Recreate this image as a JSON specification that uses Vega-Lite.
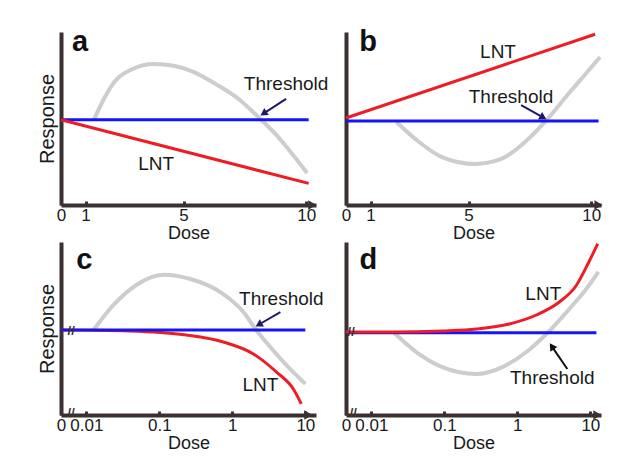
{
  "$schema": "https://vega.github.io/schema/vega-lite/v6.json",
  "background": "white",
  "padding": {"left": 37, "top": 28, "right": 5, "bottom": 5},
  "columns": 2,
  "bounds": "flush",
  "spacing": {"row": 37, "column": 30},
  "datasets": {
    "a": [
      {"s": "gray", "dose": 1.35, "r": 4.95}, {"s": "gray", "dose": 1.7, "r": 6.0}, {"s": "gray", "dose": 2.2, "r": 7.15},
      {"s": "gray", "dose": 2.9, "r": 7.85}, {"s": "gray", "dose": 3.8, "r": 8.15}, {"s": "gray", "dose": 4.6, "r": 8.05},
      {"s": "gray", "dose": 5.4, "r": 7.7}, {"s": "gray", "dose": 6.3, "r": 7.0}, {"s": "gray", "dose": 7.27, "r": 6.1},
      {"s": "gray", "dose": 7.96, "r": 5.2}, {"s": "gray", "dose": 8.78, "r": 4.05}, {"s": "gray", "dose": 9.43, "r": 2.95},
      {"s": "gray", "dose": 10.04, "r": 1.85},
      {"s": "threshold", "dose": 0, "r": 4.93}, {"s": "threshold", "dose": 10.1, "r": 4.93},
      {"s": "lnt", "dose": 0, "r": 4.93}, {"s": "lnt", "dose": 10.1, "r": 1.25},
      {"s": "label", "t": "Threshold", "dose": 9.18, "r": 7.0},
      {"s": "label", "t": "LNT", "dose": 3.88, "r": 2.37},
      {"s": "letter", "t": "a", "dose": 0.78, "r": 9.4},
      {"s": "arrow", "dose": 9.18, "r": 6.13, "dose2": 8.3, "r2": 5.33},
      {"s": "head", "dose": 8.3, "r": 5.33},
      {"s": "axisend", "dose": 10.25, "r": 0}
    ],
    "b": [
      {"s": "gray", "dose": 2.06, "r": 4.8}, {"s": "gray", "dose": 2.98, "r": 3.64}, {"s": "gray", "dose": 3.91, "r": 2.77},
      {"s": "gray", "dose": 5.28, "r": 2.37}, {"s": "gray", "dose": 6.33, "r": 2.66}, {"s": "gray", "dose": 7.3, "r": 3.64},
      {"s": "gray", "dose": 8.15, "r": 4.86}, {"s": "gray", "dose": 9.03, "r": 6.36}, {"s": "gray", "dose": 9.84, "r": 7.69},
      {"s": "gray", "dose": 10.36, "r": 8.55},
      {"s": "threshold", "dose": 0, "r": 4.86}, {"s": "threshold", "dose": 10.3, "r": 4.86},
      {"s": "lnt", "dose": 0, "r": 5.03}, {"s": "lnt", "dose": 10.16, "r": 9.87},
      {"s": "label", "t": "Threshold", "dose": 6.73, "r": 6.24},
      {"s": "label", "t": "LNT", "dose": 6.2, "r": 8.84},
      {"s": "letter", "t": "b", "dose": 0.9, "r": 9.4},
      {"s": "arrow", "dose": 7.14, "r": 5.78, "dose2": 8.0, "r2": 5.09},
      {"s": "head", "dose": 8.0, "r": 5.09},
      {"s": "axisend", "dose": 10.3, "r": 0}
    ],
    "c": [
      {"s": "gray", "dose": 0.0125, "r": 4.9}, {"s": "gray", "dose": 0.0236, "r": 6.36}, {"s": "gray", "dose": 0.048, "r": 7.5},
      {"s": "gray", "dose": 0.1135, "r": 8.1}, {"s": "gray", "dose": 0.266, "r": 7.86}, {"s": "gray", "dose": 0.686, "r": 7.1},
      {"s": "gray", "dose": 1.42, "r": 5.95}, {"s": "gray", "dose": 2.07, "r": 4.97}, {"s": "gray", "dose": 3.31, "r": 3.93},
      {"s": "gray", "dose": 5.49, "r": 2.89}, {"s": "gray", "dose": 10, "r": 1.8},
      {"s": "threshold", "dose": 0.0045, "r": 4.91}, {"s": "threshold", "dose": 10, "r": 4.91},
      {"s": "lnt", "dose": 0.0045, "r": 4.91}, {"s": "lnt", "dose": 0.02, "r": 4.89}, {"s": "lnt", "dose": 0.05, "r": 4.84},
      {"s": "lnt", "dose": 0.234, "r": 4.62}, {"s": "lnt", "dose": 0.75, "r": 4.22}, {"s": "lnt", "dose": 1.94, "r": 3.53},
      {"s": "lnt", "dose": 4.0, "r": 2.49}, {"s": "lnt", "dose": 6.85, "r": 1.5}, {"s": "lnt", "dose": 8.8, "r": 0.64},
      {"s": "label", "t": "Threshold", "dose": 4.69, "r": 6.7},
      {"s": "label", "t": "LNT", "dose": 2.42, "r": 1.73},
      {"s": "letter", "t": "c", "dose": 0.0094, "r": 8.96},
      {"s": "arrow", "dose": 4.55, "r": 5.95, "dose2": 2.38, "r2": 5.26},
      {"s": "head", "dose": 2.38, "r": 5.26},
      {"s": "break", "t": "//", "dose": 0.0062, "r": 4.88},
      {"s": "break", "t": "//", "dose": 0.0062, "r": 0.1},
      {"s": "axisend", "dose": 11, "r": 0}
    ],
    "d": [
      {"s": "gray", "dose": 0.0207, "r": 4.74}, {"s": "gray", "dose": 0.0413, "r": 3.64}, {"s": "gray", "dose": 0.094, "r": 2.77},
      {"s": "gray", "dose": 0.275, "r": 2.37}, {"s": "gray", "dose": 0.624, "r": 2.77}, {"s": "gray", "dose": 1.33, "r": 3.64},
      {"s": "gray", "dose": 2.58, "r": 4.74}, {"s": "gray", "dose": 5.15, "r": 6.13}, {"s": "gray", "dose": 8.8, "r": 7.28},
      {"s": "gray", "dose": 12.9, "r": 8.27},
      {"s": "threshold", "dose": 0.0045, "r": 4.76}, {"s": "threshold", "dose": 12.1, "r": 4.76},
      {"s": "lnt", "dose": 0.0045, "r": 4.8}, {"s": "lnt", "dose": 0.0195, "r": 4.8}, {"s": "lnt", "dose": 0.094, "r": 4.86},
      {"s": "lnt", "dose": 0.275, "r": 4.97}, {"s": "lnt", "dose": 0.776, "r": 5.26}, {"s": "lnt", "dose": 1.82, "r": 5.78},
      {"s": "lnt", "dose": 3.76, "r": 6.53}, {"s": "lnt", "dose": 6.45, "r": 7.5}, {"s": "lnt", "dose": 9.1, "r": 8.67},
      {"s": "lnt", "dose": 12.6, "r": 9.9},
      {"s": "label", "t": "Threshold", "dose": 3.01, "r": 2.14},
      {"s": "label", "t": "LNT", "dose": 2.27, "r": 7.0},
      {"s": "letter", "t": "d", "dose": 0.0091, "r": 8.96},
      {"s": "arrow", "dose": 4.84, "r": 2.66, "dose2": 3.03, "r2": 3.91},
      {"s": "head", "dose": 3.03, "r": 3.91},
      {"s": "break", "t": "//", "dose": 0.0053, "r": 4.78},
      {"s": "break", "t": "//", "dose": 0.00566, "r": 0.1},
      {"s": "axisend", "dose": 12.5, "r": 0}
    ]
  },
  "concat": [
    {
      "width": 255, "height": 173,
      "data": {"name": "a"},
      "encoding": {
        "x": {"field": "dose", "type": "quantitative", "scale": {"domain": [0, 10.4], "nice": false, "zero": false},
              "axis": {"values": [0, 1, 5, 10], "title": "Dose"}},
        "y": {"field": "r", "type": "quantitative", "scale": {"domain": [0, 10], "nice": false},
              "axis": {"title": "Response"}}
      },
      "layer": [
        {"transform": [{"filter": "datum.s == 'gray'"}], "mark": {"type": "line", "color": "#cdcdcd", "strokeWidth": 4, "interpolate": "monotone"}},
        {"transform": [{"filter": "datum.s == 'threshold'"}], "mark": {"type": "line", "color": "#1414f5", "strokeWidth": 3}},
        {"transform": [{"filter": "datum.s == 'lnt'"}], "mark": {"type": "line", "color": "#ee1c24", "strokeWidth": 3}},
        {"transform": [{"filter": "datum.s == 'label'"}], "mark": {"type": "text", "fontSize": 19, "color": "#1a1a1a"}, "encoding": {"text": {"field": "t"}}},
        {"transform": [{"filter": "datum.s == 'letter'"}], "mark": {"type": "text", "fontSize": 29, "fontWeight": "bold", "color": "#111111"}, "encoding": {"text": {"field": "t"}}},
        {"transform": [{"filter": "datum.s == 'arrow'"}], "mark": {"type": "rule", "color": "#1b1b66", "strokeWidth": 2}, "encoding": {"x2": {"field": "dose2"}, "y2": {"field": "r2"}}},
        {"transform": [{"filter": "datum.s == 'head'"}], "mark": {"type": "point", "shape": "triangle", "angle": 237, "filled": true, "size": 70, "color": "#1b1b66", "opacity": 1}},
        {"transform": [{"filter": "datum.s == 'axisend'"}], "mark": {"type": "point", "shape": "triangle-right", "filled": true, "size": 90, "color": "#3b3130", "opacity": 1}}
      ]
    },
    {
      "width": 255, "height": 173,
      "data": {"name": "b"},
      "encoding": {
        "x": {"field": "dose", "type": "quantitative", "scale": {"domain": [0, 10.4], "nice": false, "zero": false},
              "axis": {"values": [0, 1, 5, 10], "title": "Dose"}},
        "y": {"field": "r", "type": "quantitative", "scale": {"domain": [0, 10], "nice": false},
              "axis": {"title": null}}
      },
      "layer": [
        {"transform": [{"filter": "datum.s == 'gray'"}], "mark": {"type": "line", "color": "#cdcdcd", "strokeWidth": 4, "interpolate": "monotone"}},
        {"transform": [{"filter": "datum.s == 'threshold'"}], "mark": {"type": "line", "color": "#1414f5", "strokeWidth": 3}},
        {"transform": [{"filter": "datum.s == 'lnt'"}], "mark": {"type": "line", "color": "#ee1c24", "strokeWidth": 3}},
        {"transform": [{"filter": "datum.s == 'label'"}], "mark": {"type": "text", "fontSize": 19, "color": "#1a1a1a"}, "encoding": {"text": {"field": "t"}}},
        {"transform": [{"filter": "datum.s == 'letter'"}], "mark": {"type": "text", "fontSize": 29, "fontWeight": "bold", "color": "#111111"}, "encoding": {"text": {"field": "t"}}},
        {"transform": [{"filter": "datum.s == 'arrow'"}], "mark": {"type": "rule", "color": "#1b1b66", "strokeWidth": 2}, "encoding": {"x2": {"field": "dose2"}, "y2": {"field": "r2"}}},
        {"transform": [{"filter": "datum.s == 'head'"}], "mark": {"type": "point", "shape": "triangle", "angle": 119, "filled": true, "size": 70, "color": "#1b1b66", "opacity": 1}},
        {"transform": [{"filter": "datum.s == 'axisend'"}], "mark": {"type": "point", "shape": "triangle-right", "filled": true, "size": 90, "color": "#3b3130", "opacity": 1}}
      ]
    },
    {
      "width": 255, "height": 173,
      "data": {"name": "c"},
      "encoding": {
        "x": {"field": "dose", "type": "quantitative", "scale": {"type": "log", "domain": [0.0045, 14], "nice": false},
              "axis": {"values": [0.0045, 0.01, 0.1, 1, 10], "format": "~g", "labelExpr": "datum.value < 0.005 ? '0' : datum.label", "title": "Dose"}},
        "y": {"field": "r", "type": "quantitative", "scale": {"domain": [0, 10], "nice": false},
              "axis": {"title": "Response"}}
      },
      "layer": [
        {"transform": [{"filter": "datum.s == 'gray'"}], "mark": {"type": "line", "color": "#cdcdcd", "strokeWidth": 4, "interpolate": "monotone"}},
        {"transform": [{"filter": "datum.s == 'lnt'"}], "mark": {"type": "line", "color": "#ee1c24", "strokeWidth": 3, "interpolate": "monotone"}},
        {"transform": [{"filter": "datum.s == 'threshold'"}], "mark": {"type": "line", "color": "#1414f5", "strokeWidth": 3}},
        {"transform": [{"filter": "datum.s == 'label'"}], "mark": {"type": "text", "fontSize": 19, "color": "#1a1a1a"}, "encoding": {"text": {"field": "t"}}},
        {"transform": [{"filter": "datum.s == 'letter'"}], "mark": {"type": "text", "fontSize": 29, "fontWeight": "bold", "color": "#111111"}, "encoding": {"text": {"field": "t"}}},
        {"transform": [{"filter": "datum.s == 'break'"}], "mark": {"type": "text", "fontSize": 13, "fontWeight": "bold", "color": "#3b3130"}, "encoding": {"text": {"field": "t"}}},
        {"transform": [{"filter": "datum.s == 'arrow'"}], "mark": {"type": "rule", "color": "#1b1b66", "strokeWidth": 2}, "encoding": {"x2": {"field": "dose2"}, "y2": {"field": "r2"}}},
        {"transform": [{"filter": "datum.s == 'head'"}], "mark": {"type": "point", "shape": "triangle", "angle": 240, "filled": true, "size": 70, "color": "#1b1b66", "opacity": 1}},
        {"transform": [{"filter": "datum.s == 'axisend'"}], "mark": {"type": "point", "shape": "triangle-right", "filled": true, "size": 90, "color": "#3b3130", "opacity": 1}}
      ]
    },
    {
      "width": 255, "height": 173,
      "data": {"name": "d"},
      "encoding": {
        "x": {"field": "dose", "type": "quantitative", "scale": {"type": "log", "domain": [0.0045, 14], "nice": false},
              "axis": {"values": [0.0045, 0.01, 0.1, 1, 10], "format": "~g", "labelExpr": "datum.value < 0.005 ? '0' : datum.label", "title": "Dose"}},
        "y": {"field": "r", "type": "quantitative", "scale": {"domain": [0, 10], "nice": false},
              "axis": {"title": null}}
      },
      "layer": [
        {"transform": [{"filter": "datum.s == 'gray'"}], "mark": {"type": "line", "color": "#cdcdcd", "strokeWidth": 4, "interpolate": "monotone"}},
        {"transform": [{"filter": "datum.s == 'threshold'"}], "mark": {"type": "line", "color": "#1414f5", "strokeWidth": 3}},
        {"transform": [{"filter": "datum.s == 'lnt'"}], "mark": {"type": "line", "color": "#ee1c24", "strokeWidth": 3, "interpolate": "monotone"}},
        {"transform": [{"filter": "datum.s == 'label'"}], "mark": {"type": "text", "fontSize": 19, "color": "#1a1a1a"}, "encoding": {"text": {"field": "t"}}},
        {"transform": [{"filter": "datum.s == 'letter'"}], "mark": {"type": "text", "fontSize": 29, "fontWeight": "bold", "color": "#111111"}, "encoding": {"text": {"field": "t"}}},
        {"transform": [{"filter": "datum.s == 'break'"}], "mark": {"type": "text", "fontSize": 13, "fontWeight": "bold", "color": "#3b3130"}, "encoding": {"text": {"field": "t"}}},
        {"transform": [{"filter": "datum.s == 'arrow'"}], "mark": {"type": "rule", "color": "#111111", "strokeWidth": 2}, "encoding": {"x2": {"field": "dose2"}, "y2": {"field": "r2"}}},
        {"transform": [{"filter": "datum.s == 'head'"}], "mark": {"type": "point", "shape": "triangle", "angle": 326, "filled": true, "size": 70, "color": "#111111", "opacity": 1}},
        {"transform": [{"filter": "datum.s == 'axisend'"}], "mark": {"type": "point", "shape": "triangle-right", "filled": true, "size": 90, "color": "#3b3130", "opacity": 1}}
      ]
    }
  ],
  "config": {
    "font": "Liberation Sans",
    "view": {"stroke": null},
    "axis": {"grid": false, "domainColor": "#3b3130", "domainWidth": 4, "tickColor": "#3b3130", "tickWidth": 3,
             "labelFont": "Liberation Sans", "titleFont": "Liberation Sans", "labelFontSize": 17, "labelColor": "#1a1a1a",
             "titleFontWeight": "normal", "titleColor": "#1a1a1a"},
    "axisX": {"tickSize": -4, "labelPadding": 6, "titlePadding": 1, "titleFontSize": 18, "labelFlush": false, "labelOverlap": false, "labelBound": false},
    "axisY": {"labels": false, "ticks": false, "titlePadding": 4, "titleFontSize": 20}
  }
}
